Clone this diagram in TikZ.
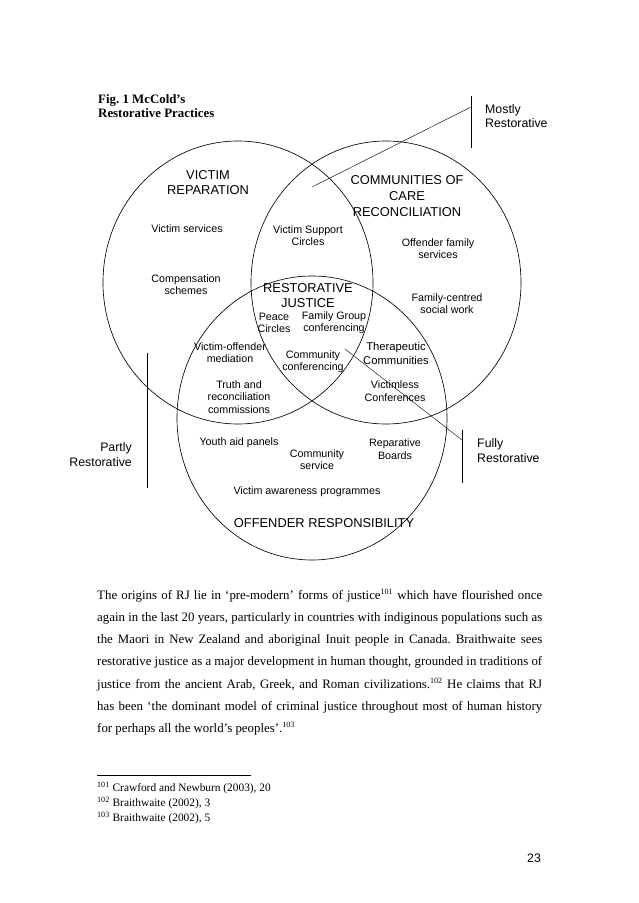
\documentclass[tikz,border=0pt]{standalone}
\usepackage{fontspec}
\setmainfont{Liberation Serif}
\setsansfont{Liberation Sans}
\usetikzlibrary{positioning}
\frenchspacing

\begin{document}
\begin{tikzpicture}[x=0.9326pt,y=-0.9326pt,
  every node/.style={inner sep=0pt,align=center},
  big/.style={font=\sffamily\fontsize{12}{14}\selectfont},
  small/.style={font=\sffamily\fontsize{10}{11.6}\selectfont},
  side/.style={font=\sffamily\fontsize{11.5}{13.5}\selectfont},
  ring/.style={draw,line width=0.6pt}]
  \useasboundingbox (0,0) rectangle (638,903);
	% title
	\node (fig) [anchor=west,align=left,font=\bfseries\fontsize{12}{13}\selectfont] at (98,106) {Fig. 1 McCold’s\\Restorative Practices};
	% three circles
	\draw[ring] (238,282.5) ellipse [x radius=135, y radius=141.5];
	\draw[ring] (386,282.5) ellipse [x radius=135, y radius=141.5];
	\draw[ring] (312,418) ellipse [x radius=135, y radius=142];
	% circle headings
	\node (vRep) [big] at (208,183) {VICTIM\\REPARATION};
	\node (cCare) [big,font=\sffamily\fontsize{12}{15}\selectfont] at (407,196) {COMMUNITIES OF\\CARE\\RECONCILIATION};
	\node (rJus) [big] at (308,295.5) {RESTORATIVE\\JUSTICE};
	\node (oRes) [big] at (324,523) {OFFENDER RESPONSIBILITY};
	% practices
	\node (vSer) [small] at (187,229) {Victim services};
	\node (vSup) [small] at (308,235.5) {Victim Support\\Circles};
	\node (oFam) [small] at (438,248.5) {Offender family\\services};
	\node (cSch) [small] at (186,284.5) {Compensation\\schemes};
	\node (fCen) [small] at (447,303.5) {Family-centred\\social work};
	\node (pCir) [small] at (274,323) {Peace\\Circles};
	\node (fGrp) [small] at (334,323) {Family Group\\conferencing};
	\node (vOff) [small] at (230,352.5) {Victim-offender\\mediation};
	\node (cCon) [small] at (313,362) {Community\\conferencing};
	\node (tCom) [font=\sffamily\fontsize{10.5}{12.5}\selectfont] at (396,353.5) {Therapeutic\\Communities};
	\node (tRec) [small] at (239,397) {Truth and\\reconciliation\\commissions};
	\node (vCon) [small] at (395,391) {Victimless\\Conferences};
	\node (yAid) [small] at (239,443) {Youth aid panels};
	\node (cSer) [small] at (317,459.5) {Community\\service};
	\node (rBrd) [small] at (395,449) {Reparative\\Boards};
	\node (vAwa) [small] at (307,492) {Victim awareness programmes};
	% degree of restoration
	\node (most) [side,anchor=west,align=left] at (485,116) {Mostly\\Restorative};
	\node (part) [side,anchor=east,align=right] at (132,454.5) {Partly\\Restorative};
	\node (full) [side,anchor=west,align=left] at (477,450.5) {Fully\\Restorative};
	\coordinate (mTop) at (471,96);
	\coordinate (mBot) at (471,148);
	\coordinate (mHook) at (471,107);
	\coordinate (mEnd) at (312,187);
	\coordinate (pTop) at (147,353);
	\coordinate (pBot) at (147,488);
	\coordinate (fTop) at (462,430);
	\coordinate (fBot) at (462,483);
	\coordinate (fHook) at (462,440);
	\coordinate (fEnd) at (345,349);
	\draw (mTop) -- (mBot);
	\draw (mHook) -- (mEnd);
	\draw (pTop) -- (pBot);
	\draw (fTop) -- (fBot);
	\draw (fHook) -- (fEnd);
	% body text
	\node (body) [anchor=north west,align=left,font=\fontsize{12}{20.7}\selectfont] at (97,589) {%
	\hbox to 415pt{The origins of RJ lie in ‘pre-modern’ forms of justice\textsuperscript{\fontsize{7.5}{7.5}\selectfont101} which have flourished once}\\
	\hbox to 415pt{again in the last 20 years, particularly in countries with indiginous populations such as}\\
	\hbox to 415pt{the Maori in New Zealand and aboriginal Inuit people in Canada. Braithwaite sees}\\
	\hbox to 415pt{restorative justice as a major development in human thought, grounded in traditions of}\\
	\hbox to 415pt{justice from the ancient Arab, Greek, and Roman civilizations.\textsuperscript{\fontsize{7.5}{7.5}\selectfont102} He claims that RJ}\\
	\hbox to 415pt{has been ‘the dominant model of criminal justice throughout most of human history}\\
	for perhaps all the world’s peoples’.\textsuperscript{\fontsize{7.5}{7.5}\selectfont103}};
	% footnotes
	\coordinate (rL) at (97,775);
	\coordinate (rR) at (251,775);
	\draw[line width=0.5pt] (rL) -- (rR);
	\node (notes) [anchor=north west,align=left,font=\fontsize{10.6}{14}\selectfont] at (97,782) {%
	\textsuperscript{\fontsize{7.5}{7.5}\selectfont101} Crawford and Newburn (2003), 20\\
	\textsuperscript{\fontsize{7.5}{7.5}\selectfont102} Braithwaite (2002), 3\\
	\textsuperscript{\fontsize{7.5}{7.5}\selectfont103} Braithwaite (2002), 5};
	% page number
	\node (pg) [side] at (534,858) {23};
\end{tikzpicture}
\end{document}
